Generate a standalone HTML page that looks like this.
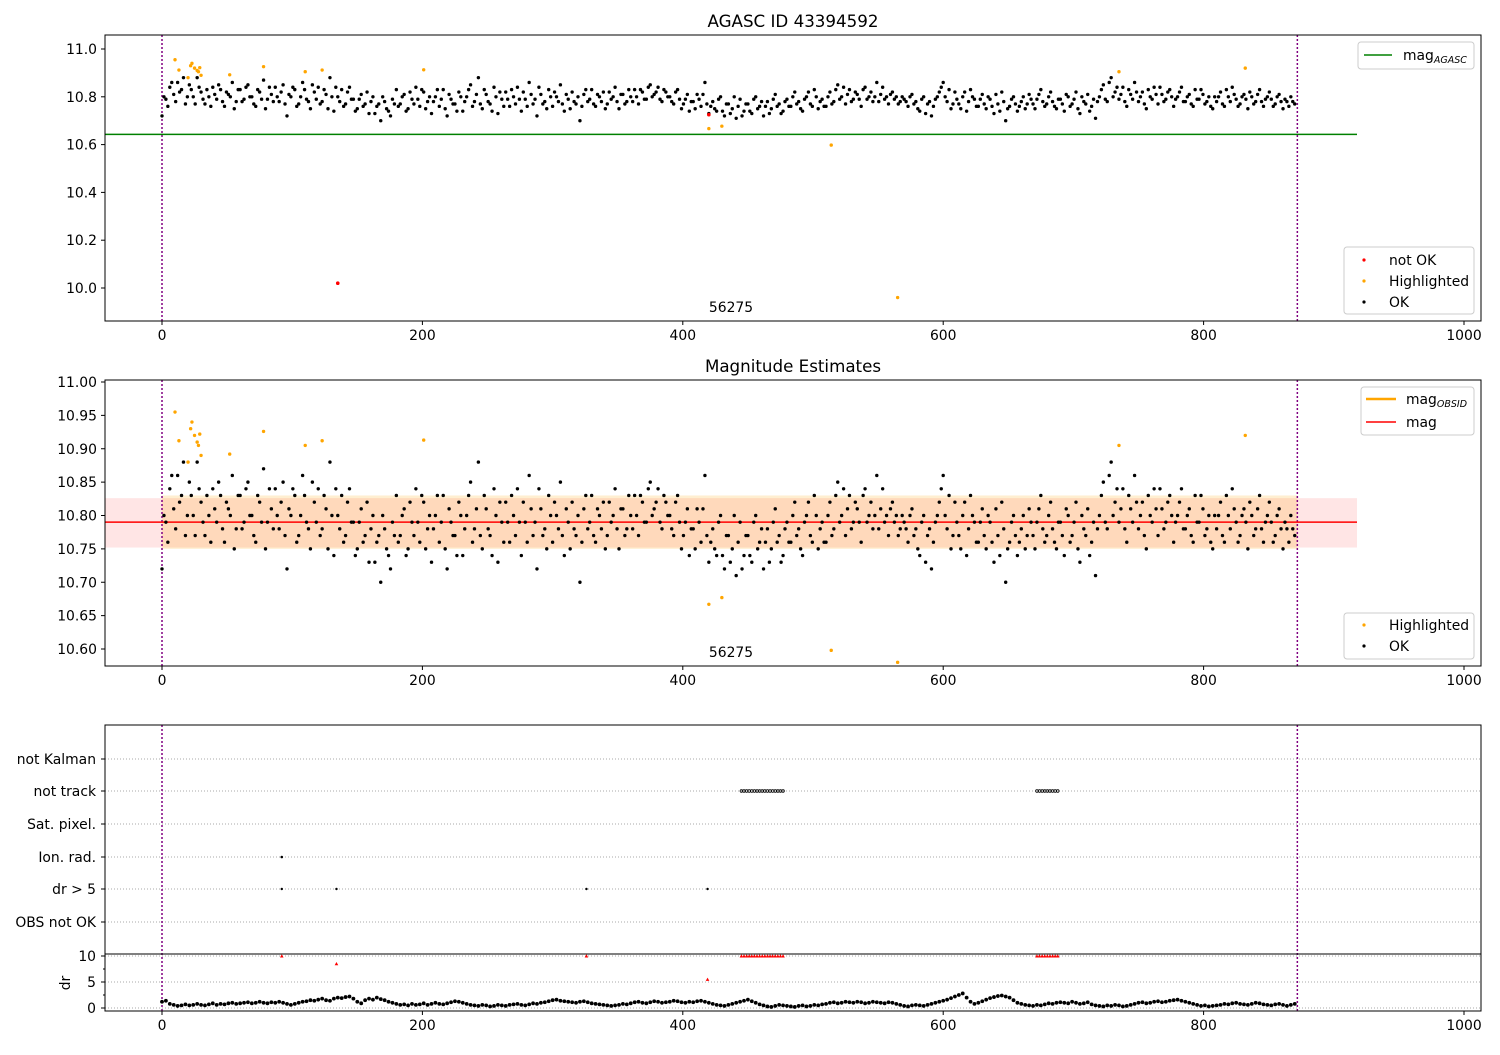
<!DOCTYPE html>
<html><head><meta charset="utf-8"><style>
body{margin:0;background:#fff}
svg{font-family:"DejaVu Sans","Liberation Sans",sans-serif}
</style></head><body>
<svg id="chart" width="1500" height="1050" xmlns="http://www.w3.org/2000/svg"></svg>
<script>
const xTicks=[0,200,400,600,800,1000];
const magTicks1=[10.0,10.2,10.4,10.6,10.8,11.0];
const magTicks2=[10.60,10.65,10.70,10.75,10.80,10.85,10.90,10.95,11.00];
const flagLabels=["not Kalman","not track","Sat. pixel.","Ion. rad.","dr > 5","OBS not OK"];
const drTicks=[0,5,10];
const magValues=[10.72,10.79,10.84,10.81,10.86,10.83,10.77,10.85,10.80,10.88,
10.82,10.77,10.80,10.84,10.79,10.83,10.76,10.81,10.86,10.78,
10.83,10.79,10.85,10.80,10.76,10.82,10.87,10.79,10.81,10.84,
10.78,10.85,10.72,10.80,10.83,10.77,10.86,10.79,10.75,10.82,
10.84,10.78,10.81,10.88,10.74,10.80,10.83,10.77,10.84,10.79,
10.75,10.81,10.77,10.73,10.80,10.76,10.70,10.78,10.74,10.79,
10.83,10.77,10.81,10.75,10.79,10.84,10.76,10.82,10.78,10.73,
10.80,10.76,10.83,10.72,10.79,10.77,10.82,10.74,10.80,10.85,
10.78,10.88,10.75,10.81,10.77,10.84,10.73,10.79,10.82,10.76,
10.80,10.84,10.74,10.79,10.86,10.77,10.72,10.81,10.78,10.83,
10.76,10.80,10.85,10.74,10.79,10.82,10.77,10.70,10.81,10.78,
10.83,10.76,10.80,10.82,10.77,10.79,10.84,10.75,10.81,10.78,
10.80,10.83,10.77,10.82,10.79,10.85,10.81,10.84,10.78,10.82,
10.80,10.77,10.83,10.75,10.79,10.74,10.78,10.81,10.76,10.86,
10.73,10.78,10.74,10.80,10.72,10.77,10.75,10.71,10.79,10.74,
10.77,10.73,10.80,10.76,10.72,10.78,10.75,10.81,10.77,10.74,
10.79,10.76,10.82,10.78,10.74,10.80,10.77,10.83,10.75,10.79,
10.76,10.82,10.78,10.85,10.80,10.77,10.83,10.79,10.81,10.76,
10.84,10.80,10.78,10.86,10.81,10.79,10.77,10.82,10.80,10.78,
10.79,10.76,10.81,10.78,10.74,10.80,10.77,10.72,10.79,10.82,
10.86,10.78,10.75,10.82,10.77,10.80,10.74,10.83,10.79,10.76,
10.81,10.75,10.79,10.73,10.77,10.82,10.70,10.76,10.80,10.74,
10.78,10.75,10.81,10.77,10.79,10.83,10.76,10.80,10.78,10.75,
10.79,10.74,10.80,10.77,10.82,10.73,10.78,10.81,10.76,10.71,
10.80,10.85,10.78,10.88,10.82,10.79,10.84,10.76,10.81,10.86,
10.78,10.82,10.75,10.80,10.84,10.77,10.81,10.79,10.83,10.76,
10.80,10.84,10.78,10.81,10.76,10.79,10.83,10.77,10.80,10.75,
10.78,10.82,10.76,10.80,10.84,10.79,10.77,10.81,10.75,10.80,
10.78,10.83,10.76,10.80,10.79,10.77,10.81,10.75,10.78,10.80,10.77];
const magValuesB=[10.80,10.76,10.86,10.78,10.82,10.88,10.80,10.83,10.77,10.84,
10.79,10.83,10.76,10.81,10.85,10.78,10.82,10.80,10.75,10.83,
10.78,10.84,10.80,10.77,10.83,10.79,10.75,10.84,10.78,10.80,
10.82,10.77,10.81,10.84,10.76,10.80,10.83,10.78,10.85,10.79,
10.77,10.83,10.75,10.80,10.84,10.78,10.76,10.82,10.79,10.74,
10.79,10.76,10.82,10.78,10.73,10.77,10.80,10.75,10.72,10.77,
10.76,10.80,10.74,10.82,10.77,10.79,10.83,10.75,10.80,10.78,
10.83,10.79,10.75,10.81,10.77,10.74,10.80,10.78,10.83,10.76,
10.81,10.77,10.83,10.78,10.74,10.80,10.82,10.76,10.79,10.83,
10.77,10.79,10.82,10.76,10.81,10.79,10.84,10.77,10.75,10.80,
10.82,10.78,10.77,10.81,10.75,10.78,10.80,10.76,10.83,10.79,
10.77,10.81,10.78,10.75,10.82,10.80,10.78,10.81,10.77,10.83,
10.78,10.80,10.83,10.79,10.84,10.80,10.82,10.79,10.83,10.80,
10.78,10.82,10.79,10.77,10.81,10.78,10.75,10.79,10.81,10.77,
10.76,10.75,10.79,10.74,10.77,10.73,10.80,10.76,10.72,10.77,
10.74,10.79,10.75,10.78,10.76,10.73,10.79,10.76,10.73,10.78,
10.76,10.80,10.77,10.75,10.79,10.82,10.76,10.80,10.78,10.76,
10.80,10.77,10.83,10.79,10.84,10.81,10.78,10.82,10.79,10.83,
10.79,10.82,10.80,10.78,10.84,10.80,10.81,10.79,10.77,10.80,
10.78,10.80,10.77,10.75,10.79,10.73,10.78,10.76,10.80,10.84,
10.80,10.83,10.77,10.79,10.75,10.82,10.78,10.80,10.76,10.79,
10.77,10.80,10.76,10.81,10.74,10.78,10.75,10.79,10.77,10.76,
10.80,10.77,10.79,10.75,10.81,10.78,10.77,10.82,10.76,10.79,
10.77,10.81,10.76,10.79,10.75,10.80,10.77,10.74,10.79,10.78,
10.83,10.79,10.86,10.80,10.84,10.81,10.78,10.83,10.79,10.82,
10.80,10.77,10.83,10.79,10.81,10.84,10.78,10.82,10.80,10.79,
10.82,10.78,10.80,10.77,10.83,10.79,10.81,10.78,10.76,10.80,
10.80,10.77,10.83,10.78,10.81,10.76,10.80,10.79,10.82,10.77,
10.81,10.78,10.79,10.82,10.76,10.80,10.78,10.79,10.76,10.78];
const drValues=[1.2,1.4,0.8,0.6,0.4,0.5,0.7,0.5,0.6,0.8,
0.6,0.5,0.7,0.9,0.6,0.8,0.7,0.9,1.0,0.8,
0.9,1.0,1.1,0.9,1.0,1.2,1.0,0.9,1.1,1.0,
1.2,1.0,0.8,0.6,0.8,1.0,1.2,1.3,1.5,1.4,
1.6,1.8,1.5,1.4,1.8,2.0,1.9,2.1,2.2,1.8,
1.2,0.9,1.5,1.8,1.6,2.0,1.7,1.5,1.2,1.0,
0.8,0.6,0.7,0.5,0.8,0.6,0.7,0.9,0.6,0.8,
1.0,0.8,0.7,0.9,1.1,1.3,1.2,1.0,0.8,0.6,
0.5,0.4,0.6,0.5,0.3,0.4,0.6,0.5,0.4,0.6,
0.7,0.8,0.6,0.5,0.7,0.9,0.8,1.0,1.1,1.3,
1.5,1.6,1.4,1.3,1.2,1.1,1.0,1.2,1.3,1.1,
0.9,0.8,0.7,0.6,0.5,0.4,0.5,0.6,0.8,0.7,
0.9,1.1,1.2,1.0,0.9,1.1,1.3,1.2,1.0,1.1,
1.2,1.4,1.3,1.1,1.0,1.2,1.1,1.3,1.4,1.2,
1.0,0.8,0.6,0.5,0.4,0.6,0.8,1.0,1.2,1.4,
1.6,1.3,1.0,0.7,0.5,0.3,0.2,0.4,0.6,0.5,
0.4,0.3,0.2,0.4,0.5,0.3,0.4,0.6,0.5,0.7,
0.8,1.0,1.1,0.9,1.0,1.2,1.1,1.0,1.2,1.1,
0.9,1.0,1.2,1.1,1.0,0.9,1.1,1.0,0.8,0.6,
0.4,0.3,0.5,0.6,0.5,0.4,0.6,0.8,1.0,1.2,
1.4,1.6,1.9,2.2,2.5,2.8,2.0,1.2,0.8,1.0,
1.3,1.6,1.9,2.1,2.3,2.4,2.2,2.0,1.5,1.0,
0.8,0.6,0.5,0.4,0.6,0.5,0.7,0.9,0.8,1.0,
1.1,1.0,0.9,1.2,1.0,0.8,0.9,1.1,0.7,0.5,
0.4,0.3,0.5,0.4,0.6,0.5,0.3,0.4,0.6,0.8,
1.0,1.1,0.9,1.0,1.2,1.3,1.1,1.2,1.4,1.5,
1.6,1.4,1.2,1.0,0.8,0.6,0.4,0.5,0.3,0.4,
0.5,0.6,0.8,0.7,0.9,1.0,0.8,0.7,0.6,0.8,
1.0,0.9,0.7,0.6,0.5,0.7,0.8,0.6,0.4,0.6,0.8];
const highlightX=[10,13,20,22,23,25,27,28,29,30,52,78,110,123,201,420,430,514,565,735,832];
const highlightMag=[10.955,10.912,10.88,10.93,10.94,10.92,10.91,10.905,10.922,10.89,10.892,10.926,10.905,10.912,10.913,10.667,10.677,10.598,9.96,10.905,10.92];
const notOkX=[135,420];
const notOkMag=[10.02,10.725];
const notTrackX=[445,447,449,451,453,455,457,459,461,463,465,467,469,471,473,475,477,672,674,676,678,680,682,684,686,688];
const ionRadX=[92];
const drBigX=[92,134,326,419];
const drBigVal=[10.5,8.5,10.5,5.5];
const magAgasc=10.643, magMean=10.79, magLo=10.752, magHi=10.826;
const obsStart=0, obsEnd=872;

const svg=document.getElementById('chart');
const NS='http://www.w3.org/2000/svg';
const FS=13.9;
function el(tag,attrs,parent){const e=document.createElementNS(NS,tag);for(const k in attrs)e.setAttribute(k,attrs[k]);(parent||svg).appendChild(e);return e;}
function txt(s,attrs,parent){const e=el('text',attrs,parent);e.textContent=s;return e;}
const X=v=>162+v*1.302;
const L=105,R=1481;
const Y1=v=>288-(v-10)*239;
const Y2=v=>382-(v-11)*667.5;
const YD=v=>1008-v*5.2;
const xs=i=>i*3;
const xsB=i=>i*3+1.5;

function xAxis(bottom,name){
  const g=el('g',{});
  
  
  xTicks.forEach(t=>{el('line',{x1:X(t),x2:X(t),y1:bottom,y2:bottom+4,stroke:'#000'},g);
    txt(t,{x:X(t),y:bottom+19,'text-anchor':'middle','font-size':FS},g);});
}
function frame(top,bottom,name){
  const r=el('rect',{x:L,y:top,width:R-L,height:bottom-top,fill:'none',stroke:'#000','stroke-width':1});
  
  
}
function vlines(top,bottom){
  [obsStart,obsEnd].forEach(v=>el('line',{x1:X(v),x2:X(v),y1:top,y2:bottom,stroke:'purple','stroke-width':1.5,'stroke-dasharray':'2,2'}));
}
function clip(id,top,bottom){const c=el('clipPath',{id:id});el('rect',{x:L,y:top,width:R-L,height:bottom-top},c);}

// ---------- Panel 1 ----------
clip('c1',35,321);
txt('AGASC ID 43394592',{x:793,y:27,'text-anchor':'middle','font-size':16.7,});
magTicks1.forEach(t=>{el('line',{x1:L-4,x2:L,y1:Y1(t),y2:Y1(t),stroke:'#000'});txt(t.toFixed(1),{x:L-8,y:Y1(t)+5,'text-anchor':'end','font-size':FS});});
vlines(35,321);
const gA=el('g',{'clip-path':'url(#c1)'});


el('line',{x1:L,x2:1357,y1:Y1(magAgasc),y2:Y1(magAgasc),stroke:'green','stroke-width':1.5},gA);
const g1=el('g',{'clip-path':'url(#c1)'});


magValues.forEach((v,i)=>el('circle',{cx:X(xs(i)),cy:Y1(v),r:1.7,fill:'#000'},g1));
magValuesB.forEach((v,i)=>el('circle',{cx:X(xsB(i)),cy:Y1(v),r:1.7,fill:'#000'},g1));
const g1h=el('g',{'clip-path':'url(#c1)'});


highlightX.forEach((x,i)=>el('circle',{cx:X(x),cy:Y1(highlightMag[i]),r:1.7,fill:'orange'},g1h));
const g1n=el('g',{});


notOkX.forEach((x,i)=>el('circle',{cx:X(x),cy:Y1(notOkMag[i]),r:1.8,fill:'red'},g1n));
txt('56275',{x:731,y:312,'text-anchor':'middle','font-size':FS});
frame(35,321,'top-plot-area');
xAxis(321,'top-x-axis');
let lg=el('g',{});
el('rect',{x:1358,y:42,width:116,height:27,rx:3,fill:'#fff',stroke:'#ccc'},lg);
el('line',{x1:1364,x2:1392,y1:55,y2:55,stroke:'green','stroke-width':1.5},lg);
const tA=txt('mag',{x:1403,y:60,'font-size':FS},lg);const sA=el('tspan',{'font-size':9.5,'font-style':'italic',dy:3},tA);sA.textContent='AGASC';
lg=el('g',{});
el('rect',{x:1344,y:247,width:130,height:67,rx:3,fill:'#fff',stroke:'#ccc'},lg);
[['not OK','red',260],['Highlighted','orange',281],['OK','#000',302]].forEach(a=>{el('circle',{cx:1364,cy:a[2],r:1.6,fill:a[1]},lg);txt(a[0],{x:1389,y:a[2]+5,'font-size':FS},lg);});

// ---------- Panel 2 ----------
clip('c2',380,666);
txt('Magnitude Estimates',{x:793,y:372,'text-anchor':'middle','font-size':16.7,});
magTicks2.forEach(t=>{el('line',{x1:L-4,x2:L,y1:Y2(t),y2:Y2(t),stroke:'#000'});txt(t.toFixed(2),{x:L-8,y:Y2(t)+5,'text-anchor':'end','font-size':FS});});
const band=el('rect',{x:L,y:Y2(magHi),width:1357-L,height:Y2(magLo)-Y2(magHi),fill:'rgba(255,0,0,0.1)'});

const band2=el('rect',{x:X(obsStart),y:Y2(magHi+0.004),width:X(obsEnd)-X(obsStart),height:Y2(magLo-0.002)-Y2(magHi+0.004),fill:'rgba(255,165,0,0.18)'});

vlines(380,666);
const gm=el('line',{x1:L,x2:1357,y1:Y2(magMean),y2:Y2(magMean),stroke:'red','stroke-width':1.5});

const g2=el('g',{'clip-path':'url(#c2)'});


magValues.forEach((v,i)=>el('circle',{cx:X(xs(i)),cy:Y2(v),r:1.7,fill:'#000'},g2));
magValuesB.forEach((v,i)=>el('circle',{cx:X(xsB(i)),cy:Y2(v),r:1.7,fill:'#000'},g2));
const g2h=el('g',{});


highlightX.forEach((x,i)=>{const v=Math.max(highlightMag[i],10.58);el('circle',{cx:X(x),cy:Y2(v),r:1.7,fill:'orange'},g2h);});
txt('56275',{x:731,y:657,'text-anchor':'middle','font-size':FS});
frame(380,666,'middle-plot-area');
xAxis(666,'middle-x-axis');
lg=el('g',{});
el('rect',{x:1361,y:387,width:113,height:48,rx:3,fill:'#fff',stroke:'#ccc'},lg);
el('line',{x1:1366,x2:1396,y1:399,y2:399,stroke:'orange','stroke-width':2.5},lg);
const tB=txt('mag',{x:1406,y:404,'font-size':FS},lg);const sB=el('tspan',{'font-size':9.5,'font-style':'italic',dy:3},tB);sB.textContent='OBSID';
el('line',{x1:1366,x2:1396,y1:422,y2:422,stroke:'red','stroke-width':1.5},lg);
txt('mag',{x:1406,y:427,'font-size':FS},lg);
lg=el('g',{});
el('rect',{x:1344,y:613,width:130,height:46,rx:3,fill:'#fff',stroke:'#ccc'},lg);
[['Highlighted','orange',625],['OK','#000',646]].forEach(a=>{el('circle',{cx:1364,cy:a[2],r:1.6,fill:a[1]},lg);txt(a[0],{x:1389,y:a[2]+5,'font-size':FS},lg);});

// ---------- Panel 3 ----------
const flagY=[759,791,824,857,889,922];
flagLabels.forEach((f,i)=>{el('line',{x1:L,x2:R,y1:flagY[i],y2:flagY[i],stroke:'#aaa','stroke-dasharray':'1,2'});
  el('line',{x1:L-4,x2:L,y1:flagY[i],y2:flagY[i],stroke:'#000'});
  txt(f,{x:L-9,y:flagY[i]+5,'text-anchor':'end','font-size':FS});});
[0,5,10].forEach(t=>el('line',{x1:L,x2:R,y1:YD(t),y2:YD(t),stroke:'#aaa','stroke-dasharray':'1,2'}));
drTicks.forEach(t=>{el('line',{x1:L-4,x2:L,y1:YD(t),y2:YD(t),stroke:'#000'});txt(t,{x:L-9,y:YD(t)+5,'text-anchor':'end','font-size':FS});});
[2.5,7.5].forEach(t=>el('line',{x1:L-2,x2:L,y1:YD(t),y2:YD(t),stroke:'#000'}));
txt('dr',{x:0,y:0,'font-size':FS,'text-anchor':'middle',transform:'translate(70,983) rotate(-90)'});
vlines(725,1011);
const gf=el('g',{});
notTrackX.forEach(x=>el('circle',{cx:X(x),cy:flagY[1],r:1.3,fill:'none',stroke:'#000','stroke-width':0.8},gf));
ionRadX.forEach(x=>el('circle',{cx:X(x),cy:flagY[3],r:1.3,fill:'#000'},gf));
drBigX.forEach(x=>el('circle',{cx:X(x),cy:flagY[4],r:1.2,fill:'#000'},gf));
clip('c3',954,1011);
const gd=el('g',{'clip-path':'url(#c3)'});
drValues.forEach((v,i)=>el('circle',{cx:X(xs(i)),cy:YD(v),r:1.9,fill:'#000'},gd));
const gr=el('g',{});
notTrackX.concat(drBigX).forEach((x,i)=>{const v=i<notTrackX.length?10:Math.min(drBigVal[i-notTrackX.length],10);el('path',{d:`M${X(x)-1.8},${YD(v)+1.5} L${X(x)},${YD(v)-1.8} L${X(x)+1.8},${YD(v)+1.5}Z`,fill:'red'},gr);});
frame(725,1011,'bottom-plot-area');
el('line',{x1:L,x2:R,y1:954,y2:954,stroke:'#000'});
xAxis(1011,'bottom-x-axis');
</script>
</body></html>
